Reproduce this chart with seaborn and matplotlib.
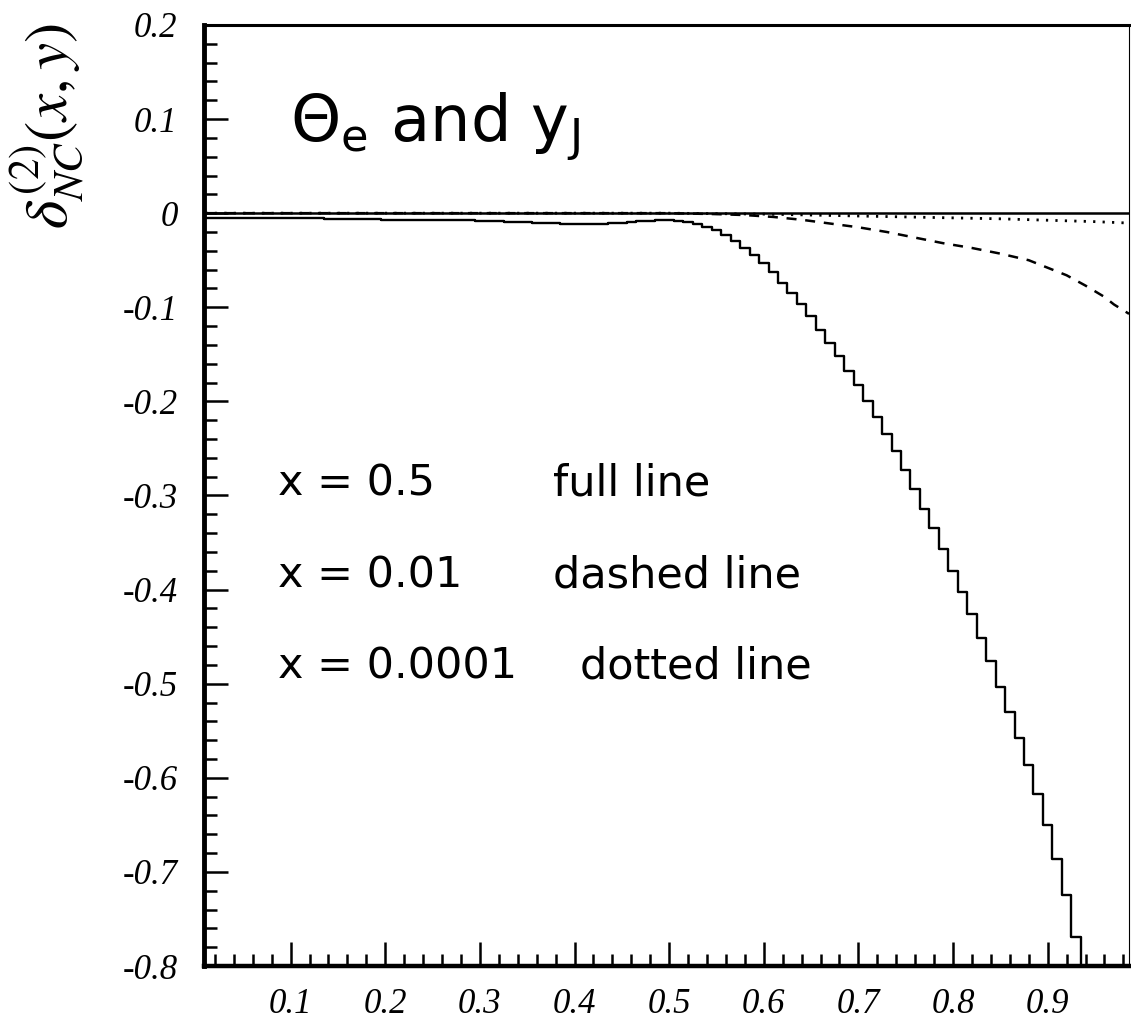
import numpy as np
import pandas as pd
import matplotlib
matplotlib.use("Agg")
import matplotlib.pyplot as plt
from matplotlib.ticker import MultipleLocator, FixedLocator, FuncFormatter
import seaborn as sns

# ---- data -------------------------------------------------------------
# x = 0.5 : binned result, bins of width 0.01 centred on 0.01 ... 0.94
y_bins = np.round(np.arange(1, 95) * 0.01, 2)
delta_x05 = [
    -0.005, -0.005, -0.005, -0.005, -0.005, -0.005, -0.005, -0.005, -0.005, -0.005,  # 0.01-0.10
    -0.005, -0.005, -0.005, -0.006, -0.006, -0.006, -0.006, -0.006, -0.006, -0.007,  # 0.11-0.20
    -0.007, -0.007, -0.007, -0.007, -0.007, -0.007, -0.007, -0.007, -0.007, -0.008,  # 0.21-0.30
    -0.008, -0.008, -0.009, -0.009, -0.009, -0.010, -0.010, -0.010, -0.011, -0.011,  # 0.31-0.40
    -0.011, -0.011, -0.011, -0.010, -0.010, -0.009, -0.008, -0.008, -0.007, -0.007,  # 0.41-0.50
    -0.008, -0.009, -0.011, -0.015, -0.018, -0.023, -0.030, -0.037, -0.044, -0.053,  # 0.51-0.60
    -0.063, -0.074, -0.085, -0.097, -0.109, -0.124, -0.138, -0.152, -0.168, -0.183,  # 0.61-0.70
    -0.200, -0.217, -0.235, -0.253, -0.273, -0.293, -0.314, -0.335, -0.357, -0.380,  # 0.71-0.80
    -0.403, -0.426, -0.451, -0.476, -0.503, -0.530, -0.558, -0.586, -0.617, -0.650,  # 0.81-0.90
    -0.686, -0.725, -0.769, -0.820,                                                  # 0.91-0.94
]

# x = 0.01
y_x001 = [0.01, 0.50, 0.55, 0.58, 0.61, 0.64, 0.67, 0.70, 0.73, 0.76, 0.79,
          0.82, 0.85, 0.88, 0.90, 0.92, 0.94, 0.96, 0.97, 0.986]
delta_x001 = [0.0, 0.0, -0.001, -0.002, -0.004, -0.007, -0.011, -0.015, -0.020,
              -0.026, -0.032, -0.037, -0.043, -0.050, -0.058, -0.066, -0.077,
              -0.089, -0.097, -0.107]

# x = 0.0001
y_x00001 = [0.01, 0.50, 0.55, 0.60, 0.65, 0.70, 0.75, 0.80, 0.85, 0.90, 0.95, 0.986]
delta_x00001 = [0.0, 0.0, -0.0005, -0.001, -0.002, -0.003, -0.004, -0.005,
                -0.006, -0.0075, -0.009, -0.0105]

legend_left = ["x = 0.5", "x = 0.01", "x = 0.0001"]
legend_right = ["full line", "dashed line", "dotted line"]

x_major = [0.1, 0.2, 0.3, 0.4, 0.5, 0.6, 0.7, 0.8, 0.9]

# ---- style ------------------------------------------------------------
sns.set_style("ticks")
plt.rcParams["font.family"] = ["DejaVu Sans"]
plt.rcParams["axes.unicode_minus"] = False
plt.rcParams["text.color"] = "black"
plt.rcParams["axes.labelcolor"] = "black"
plt.rcParams["xtick.color"] = "black"
plt.rcParams["ytick.color"] = "black"

fig = plt.figure(figsize=(11.31, 10.19), dpi=100)
ax = fig.add_axes([0.1804, 0.052, 0.8179, 0.9235])

df_full = pd.DataFrame({"y": y_bins, "delta": delta_x05})
df_dash = pd.DataFrame({"y": y_x001, "delta": delta_x001})
df_dot = pd.DataFrame({"y": y_x00001, "delta": delta_x00001})

ax.axhline(0.0, color="black", lw=1.8, zorder=1)
sns.lineplot(data=df_dot, x="y", y="delta", ax=ax, color="black", lw=2.0,
             linestyle=(0, (0.8, 2.6)), estimator=None, errorbar=None)
sns.lineplot(data=df_dash, x="y", y="delta", ax=ax, color="black", lw=1.8,
             linestyle=(0, (4.0, 3.5)), estimator=None, errorbar=None)
sns.lineplot(data=df_full, x="y", y="delta", ax=ax, color="black", lw=1.7,
             drawstyle="steps-mid", estimator=None, errorbar=None)

ax.set_xlim(0.0085, 0.986)
ax.set_ylim(-0.8, 0.2)

# ---- axes frame and ticks --------------------------------------------
ax.spines["left"].set_linewidth(3.5)
ax.spines["bottom"].set_linewidth(3.2)
ax.spines["top"].set_linewidth(2.2)
ax.spines["right"].set_linewidth(0.8)
for s in ax.spines.values():
    s.set_color("black")

ax.xaxis.set_major_locator(FixedLocator(x_major))
ax.xaxis.set_minor_locator(MultipleLocator(0.02))
ax.yaxis.set_major_locator(MultipleLocator(0.1))
ax.yaxis.set_minor_locator(MultipleLocator(0.02))


def fmt(v, pos):
    v = round(v, 2)
    if abs(v) < 1e-9:
        return "0"
    return f"{v:g}"


ax.xaxis.set_major_formatter(FuncFormatter(fmt))
ax.yaxis.set_major_formatter(FuncFormatter(fmt))

ax.tick_params(which="both", direction="in", top=False, right=False,
               color="black", width=1.8, labelcolor="black")
ax.tick_params(which="major", length=17)
ax.tick_params(which="minor", length=9)
ax.tick_params(axis="y", which="major", pad=19)
ax.tick_params(axis="x", which="major", pad=16)

for lab in ax.get_xticklabels() + ax.get_yticklabels():
    lab.set_fontfamily("Liberation Serif")
    lab.set_fontstyle("italic")
    lab.set_fontsize(25)

ax.set_xlabel("")
ax.set_ylabel(r"$\delta^{(2)}_{NC}(x,y)$", fontsize=44, math_fontfamily="stix",
              color="black")
ax.yaxis.set_label_coords(-0.128, 0.893)

# ---- annotations ------------------------------------------------------
ax.text(0.099, 0.0764, r"$\Theta_{\mathrm{e}}$ and y$_{\mathrm{J}}$",
        fontsize=46, fontfamily="DejaVu Sans", math_fontfamily="dejavusans",
        va="baseline", ha="left", color="black")

baselines = [-0.300, -0.398, -0.495]
right_x = [0.377, 0.377, 0.406]
for left, right, yb, xr in zip(legend_left, legend_right, baselines, right_x):
    ax.text(0.0867, yb, left, fontsize=31, va="baseline", ha="left", color="black")
    ax.text(xr, yb, right, fontsize=31, va="baseline", ha="left", color="black")

fig.savefig("out.png", dpi=100)
